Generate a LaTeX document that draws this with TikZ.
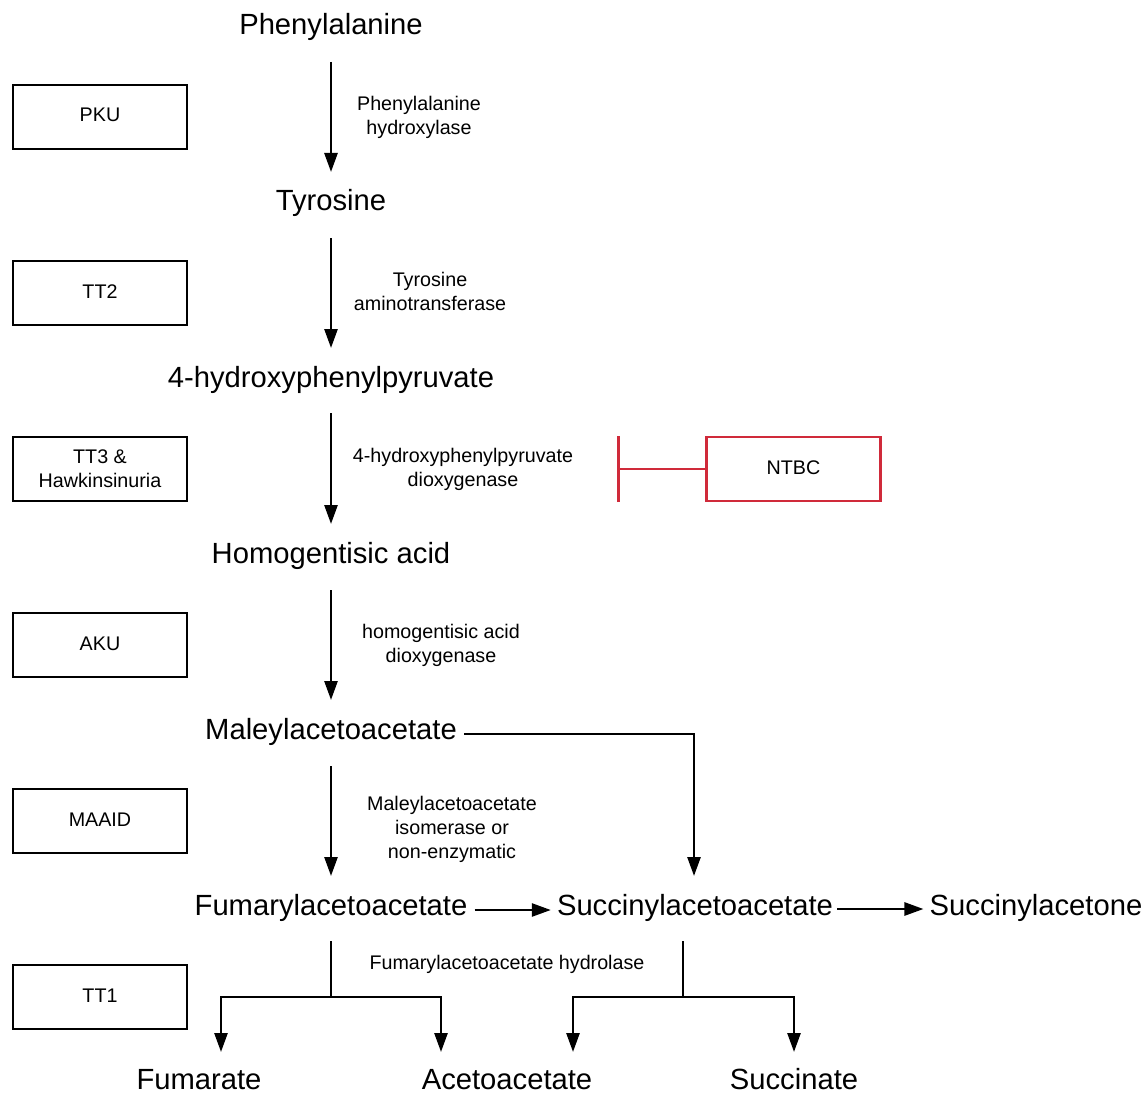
\documentclass[tikz,border=0pt]{standalone}
\usepackage{fontspec}
\setmainfont{Liberation Sans}
\usetikzlibrary{arrows.meta,calc}
\definecolor{inhred}{RGB}{208,42,58}
\begin{document}
\begin{tikzpicture}[x=1pt,y=-1pt,
  big/.style={font=\fontsize{29.2}{34}\selectfont, inner sep=0pt, anchor=base},
  lbl/.style={font=\fontsize{19.7}{24}\selectfont, inner sep=0pt, anchor=north, align=center},
  dbox/.style={draw, line width=2.2pt, minimum width=174pt, minimum height=64pt, inner sep=0pt,
     font=\fontsize{19.7}{24}\selectfont, align=center},
  one/.style={text height=14.5pt, text depth=4.5pt},
  arr/.style={line width=2.6pt, -{Triangle[length=19pt,width=13pt]}},
  ln/.style={line width=2.6pt},
  inh/.style={line width=2.8pt, draw=inhred, -{Bar[width=66pt]}}
]
\useasboundingbox (0,0) rectangle (1145,1094);

% metabolites
\node[big] (phe) at (331,35) {Phenylalanine};
\node[big] (tyr) at (331,211) {Tyrosine};
\node[big] (hpp) at (331,387) {4-hydroxyphenylpyruvate};
\node[big] (hga) at (331,563) {Homogentisic acid};
\node[big] (maa) at (331,739) {Maleylacetoacetate};
\node[big] (faa) at (331,915) {Fumarylacetoacetate};
\node[big] (saa) at (695,915) {Succinylacetoacetate};
\node[big] (sa)  at (1036,915) {Succinylacetone};
\node[big] (fum) at (199,1089) {Fumarate};
\node[big] (ace) at (507,1089) {Acetoacetate};
\node[big] (suc) at (794,1089) {Succinate};

% enzyme labels
\node[lbl] (e1) at (419,95.8) {Phenylalanine\\hydroxylase};
\node[lbl] (e2) at (430,271.8) {Tyrosine\\aminotransferase};
\node[lbl] (e3) at (463,447.8) {4-hydroxyphenylpyruvate\\dioxygenase};
\node[lbl] (e4) at (441,623.8) {homogentisic acid\\dioxygenase};
\node[lbl] (e5) at (452,795.8) {Maleylacetoacetate\\isomerase or\\non-enzymatic};
\node[lbl] (e6) at (507,954.8) {Fumarylacetoacetate hydrolase};

% disease boxes
\node[dbox,one] (pku) at (100,117) {PKU};
\node[dbox,one] (tt2) at (100,293) {TT2};
\node[dbox] (tt3) at (100,469) {TT3 \&\\Hawkinsinuria};
\node[dbox,one] (aku) at (100,645) {AKU};
\node[dbox,one] (maaid) at (100,821) {MAAID};
\node[dbox,one] (tt1) at (100,997) {TT1};
\node[dbox,one,draw=inhred] (ntbc) at (793.5,469) {NTBC};

% main pathway arrows
\draw[arr] ($(phe.base)+(0,27)$) -- ($(tyr.base)+(0,-39)$);
\draw[arr] ($(tyr.base)+(0,27)$) -- ($(hpp.base)+(0,-39)$);
\draw[arr] ($(hpp.base)+(0,26)$) -- ($(hga.base)+(0,-39)$);
\draw[arr] ($(hga.base)+(0,27)$) -- ($(maa.base)+(0,-39)$);
\draw[arr] ($(maa.base)+(0,27)$) -- ($(faa.base)+(0,-39)$);

% side branch
\draw[arr] ($(maa.base east)+(7,-5)$) -| ($(saa.base)+(-1,-39)$);
\draw[arr] ($(faa.base east)+(7,-5)$) -- ($(saa.base west)+(-6,-5)$);
\draw[arr] ($(saa.base east)+(4,-6)$) -- ($(sa.base west)+(-6,-6)$);

% hydrolase forks
\coordinate (fork1) at (331,997);
\coordinate (tipfum) at (221,1052);
\coordinate (tipace) at (441,1052);
\draw[ln] ($(faa.base)+(0,26)$) -- (fork1);
\draw[arr] (fork1) -| (tipfum);
\draw[arr] (fork1) -| (tipace);

\coordinate (fork2) at (683,997);
\coordinate (tipace2) at (573,1052);
\coordinate (tipsuc) at (794,1052);
\draw[ln] ($(saa.base)+(-12,26)$) -- (fork2);
\draw[arr] (fork2) -| (tipace2);
\draw[arr] (fork2) -| (tipsuc);

% inhibition
\coordinate (inhend) at (617,469);
\draw[inh] (ntbc.west) -- (inhend);
\end{tikzpicture}
\end{document}
